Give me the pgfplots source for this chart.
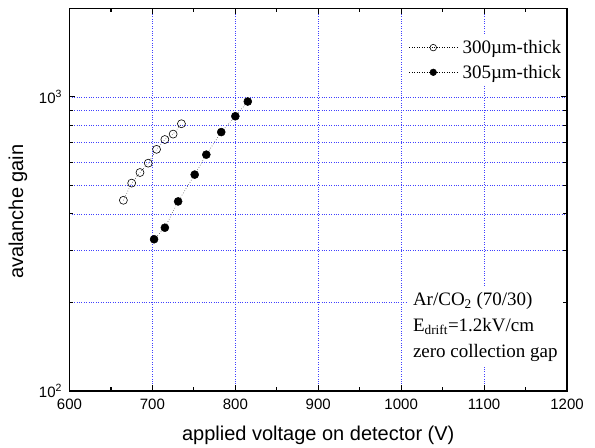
\documentclass[border=0pt]{standalone}
\usepackage{pgfplots}
\pgfplotsset{compat=1.18}
\usepackage{fontspec}
\setmainfont{Liberation Sans}
\newfontfamily\timesfont{Liberation Serif}

\begin{document}
\begin{tikzpicture}
  \begin{axis}[
    scale only axis, width=497.5pt, height=382.7pt,
    xmin=600, xmax=1200, ymode=log, ymin=100, ymax=2000,
    xtick={600,700,...,1200}, minor x tick num=1,
    ytick={100,1000}, yticklabels={10\textsuperscript{2},10\textsuperscript{3}},
    minor ytick={200,300,400,500,600,700,800,900},
    tick align=inside, major tick length=6pt, minor tick length=4pt,
    axis line style={line width=1.2pt},
    every tick/.style={black, line width=1.1pt},
    xmajorgrids, ymajorgrids, yminorgrids,
    major grid style={blue!75, dotted, line width=0.6pt},
    minor grid style={blue!75, dotted, line width=0.6pt},
    /pgf/number format/assume math mode=true,
    /pgf/number format/set thousands separator={},
    tick label style={font=\fontsize{15}{18}\selectfont},
    xticklabel style={yshift=-4pt},
    yticklabel style={xshift=-4pt},
    xlabel={applied voltage on detector (V)},
    ylabel={avalanche gain},
    every axis x label/.style={at={(rel axis cs:0.5,0)}, yshift=-44pt,
      anchor=center, font=\fontsize{20}{24}\selectfont},
    every axis y label/.style={at={(rel axis cs:-0.1035,0.4685)},
      rotate=90, anchor=center, font=\fontsize{20}{24}\selectfont},
    legend style={draw=none, fill=white, inner sep=3pt, row sep=6pt,
      at={(0.676,0.93)}, anchor=north west,
      font=\timesfont\fontsize{19}{22}\selectfont, cells={anchor=west}},
    legend image code/.code={
      \draw[mark repeat=2, mark phase=2, mark size=3.3pt]
        plot coordinates {(0pt,0pt) (24pt,0pt) (48pt,0pt)};
      \path (51pt,0pt);},
  ]
    \addplot[black, dotted, line width=0.5pt, mark=o, mark size=4pt,
      mark options={solid, fill=white, line width=0.6pt}] coordinates {
      (665,445) (675,509) (685,553) (695,595) (705,663) (715,716)
      (725,747) (735,810)};
    \addplot[black, dotted, line width=0.5pt, mark=*, mark size=4pt,
      mark options={solid}] coordinates {
      (702,328) (715,359) (731,441) (751,544) (765,636) (783,759)
      (800,859) (815,964)};
    \legend{300µm-thick, 305µm-thick}
    \node[anchor=west, fill=white, align=left, inner sep=5pt,
      font=\timesfont\fontsize{19}{26}\selectfont]
      at (axis cs:1008,165)
      {Ar/CO\textsubscript{2} (70/30)\\
       E\textsubscript{drift}=1.2kV/cm\\
       zero collection gap};
  \end{axis}
  \pgfresetboundingbox
  \path[use as bounding box] (current axis.south west) ++(-69.5pt,-56pt)
    rectangle ([shift={(28pt,8.3pt)}]current axis.north east);
\end{tikzpicture}
\end{document}
